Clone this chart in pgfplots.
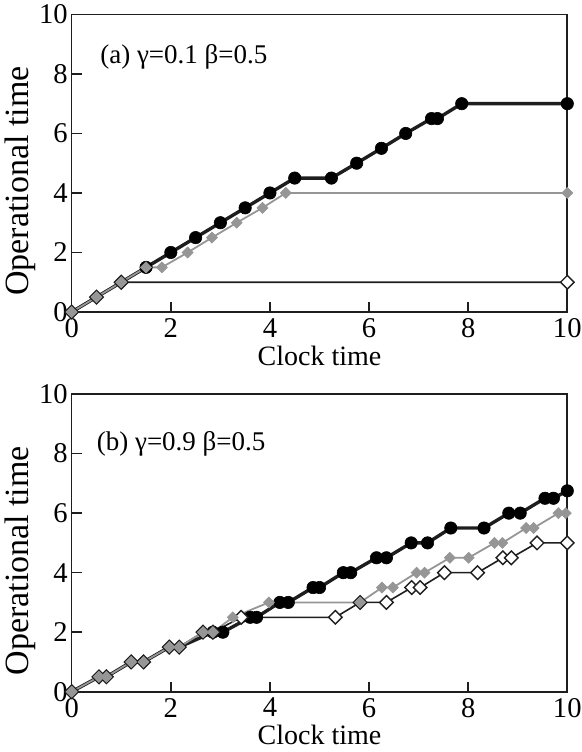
\documentclass[border=0pt]{standalone}
\usepackage{fontspec}
\setmainfont{Liberation Serif}
\usepackage{pgfplots}
\pgfplotsset{compat=1.18}

\definecolor{ser}{RGB}{150,150,150}
\definecolor{ink}{RGB}{30,30,30}

\pgfplotsset{
  panel/.style={
    width=247.8pt, height=148.8pt, scale only axis,
    xmin=0, xmax=10, ymin=0, ymax=10,
    xtick={0,2,...,10}, ytick={0,2,...,10},
    tick align=inside, xtick pos=bottom, ytick pos=left,
    major tick length=5pt,
    axis line style={ink, line width=0.8pt},
    tick style={ink, line width=0.8pt},
    clip=false,
    /pgf/number format/assume math mode=true,
    tick label style={font=\fontsize{14.3}{16}\selectfont, inner sep=0pt},
    xticklabel style={yshift=-3pt},
    yticklabel style={xshift=-1.8pt},
    xlabel={Clock time},
    ylabel={Operational time},
    xlabel style={at={(axis description cs:0.5,-0.179)}, anchor=base,
      inner sep=0pt, font=\fontsize{14}{16}\selectfont},
    ylabel style={at={(axis description cs:-0.103,0.44)}, anchor=center,
      inner sep=0pt, font=\fontsize{17}{19}\selectfont},
  },
  blk/.style={ink, line width=1.7pt, mark=*, mark size=3.1pt,
    mark options={fill=black, draw=black, line width=0.3pt}},
  opn/.style={ink, line width=0.8pt, mark=square*, mark size=2.4pt,
    mark options={rotate=45, fill=white, draw=ink, line width=0.7pt}},
  gry/.style={ser, line width=0.9pt, mark=square*, mark size=1.95pt,
    mark options={rotate=45, fill=ser, draw=ser, line width=0.3pt}},
}

\begin{document}
\begin{tikzpicture}
\path[use as bounding box] (-35.85pt,-30.15pt) rectangle (255.15pt,345.85pt);

% (b) gamma = 0.9
\begin{axis}[panel]
\addplot[blk, mark indices={8,...,40}] coordinates {
  (0,0) (0.55,0.5) (0.7,0.5) (1.2,1) (1.45,1) (1.97,1.5) (2.17,1.5)
  (2.85,2) (3.05,2) (3.6,2.5) (3.73,2.5) (4.2,3) (4.37,3)
  (4.87,3.5) (5.0,3.5) (5.48,4) (5.63,4) (6.15,4.5) (6.35,4.5)
  (6.85,5) (7.18,5) (7.65,5.5) (8.32,5.5) (8.82,6) (9.05,6)
  (9.55,6.5) (9.72,6.5) (10,6.75)};
\addplot[opn] coordinates {
  (0,0) (0.55,0.5) (0.7,0.5) (1.2,1) (1.45,1) (1.97,1.5) (2.17,1.5)
  (2.65,2) (2.85,2) (3.42,2.5) (5.32,2.5) (5.82,3) (6.35,3)
  (6.86,3.5) (7.03,3.5) (7.52,4) (8.19,4) (8.7,4.5) (8.87,4.5)
  (9.39,5) (10,5)};
\addplot[gry] coordinates {
  (0,0) (0.55,0.5) (0.7,0.5) (1.2,1) (1.45,1) (1.97,1.5) (2.17,1.5)
  (2.65,2) (2.85,2) (3.25,2.5) (3.98,3) (5.82,3) (6.26,3.5) (6.48,3.5)
  (6.96,4) (7.12,4) (7.63,4.5) (8.01,4.5) (8.53,5) (8.69,5)
  (9.17,5.5) (9.32,5.5) (9.82,6) (9.97,6)};
\node[anchor=west, inner sep=0pt, font=\fontsize{13.5}{16}\selectfont]
  at (axis cs:0.5,8.34) {(b) γ=0.9 β=0.5};
\end{axis}

% (a) gamma = 0.1
\begin{axis}[panel, at={(0,189.85pt)}]
\addplot[blk, mark indices={4,...,40}] coordinates {
  (0,0) (0.5,0.5) (1,1) (1.5,1.5) (2,2) (2.5,2.5) (3,3) (3.5,3.5)
  (4,4) (4.5,4.5) (5.24,4.5) (5.75,5) (6.25,5.5) (6.74,6)
  (7.26,6.5) (7.38,6.5) (7.87,7) (10,7)};
\addplot[opn] coordinates {(0,0) (0.5,0.5) (1,1) (10,1)};
\addplot[gry] coordinates {
  (0,0) (0.5,0.5) (1,1) (1.5,1.5) (1.82,1.5) (2.34,2) (2.83,2.5)
  (3.33,3) (3.85,3.5) (4.32,4) (10,4)};
\node[anchor=west, inner sep=0pt, font=\fontsize{13.5}{16}\selectfont]
  at (axis cs:0.57,8.58) {(a) γ=0.1 β=0.5};
\end{axis}
\end{tikzpicture}
\end{document}
